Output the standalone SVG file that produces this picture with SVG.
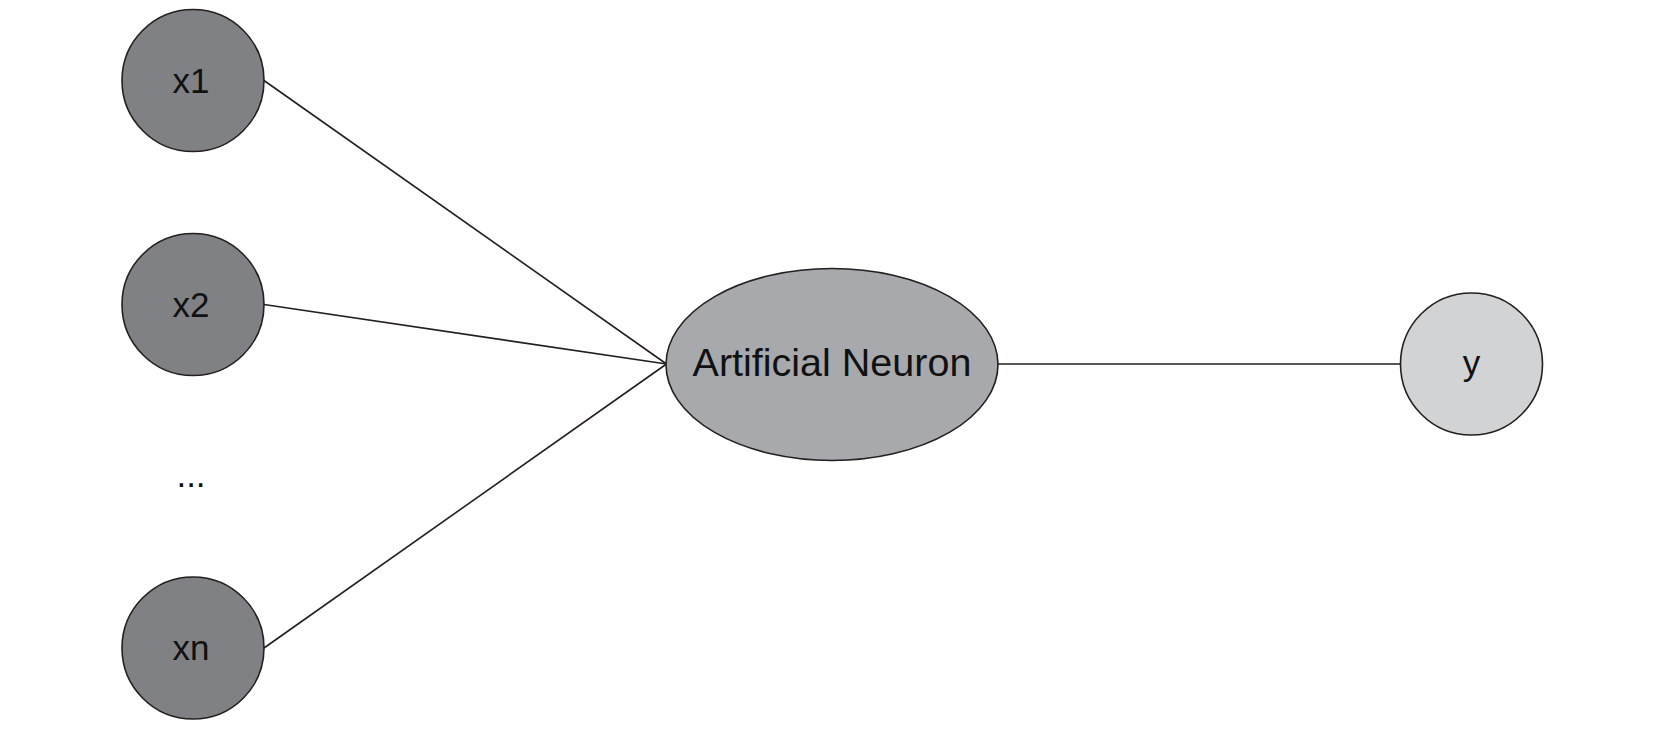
<svg xmlns="http://www.w3.org/2000/svg" width="1665" height="729" viewBox="0 0 1665 729">
<style>
.bg{fill:#ffffff}
.edge{stroke:#231f20;stroke-width:1.6;fill:none}
.node{stroke:#231f20;stroke-width:1.6}
.in{fill:#808184}
.neuron{fill:#a7a9ac}
.out{fill:#d1d3d4}
.lbl{font-family:"Liberation Sans",Arial,sans-serif;font-size:35px;fill:#111111;text-anchor:middle}
.big{font-size:39.5px}
</style>
<rect class="bg" x="0" y="0" width="1665" height="729"/>
<g id="connectors">
<line class="edge" x1="264" y1="80.5" x2="666.5" y2="364"/>
<line class="edge" x1="264" y1="304.5" x2="666.5" y2="364"/>
<line class="edge" x1="264" y1="648" x2="666.5" y2="364"/>
<line class="edge" x1="998" y1="364" x2="1401" y2="364"/>
</g>
<g id="node-x1">
<circle class="node in" cx="193" cy="80.5" r="71"/>
<text class="lbl" x="191" y="92.5">x1</text>
</g>
<g id="node-x2">
<circle class="node in" cx="193" cy="304.5" r="71"/>
<text class="lbl" x="191" y="316.5">x2</text>
</g>
<g id="node-dots">
<text class="lbl" x="191" y="487">...</text>
</g>
<g id="node-xn">
<circle class="node in" cx="193" cy="648" r="71"/>
<text class="lbl" x="191" y="660">xn</text>
</g>
<g id="node-neuron">
<ellipse class="node neuron" cx="832" cy="364.5" rx="166" ry="96"/>
<text class="lbl big" x="832" y="376">Artificial Neuron</text>
</g>
<g id="node-y">
<circle class="node out" cx="1471.5" cy="364" r="71"/>
<text class="lbl" x="1471.5" y="374.5">y</text>
</g>
</svg>
